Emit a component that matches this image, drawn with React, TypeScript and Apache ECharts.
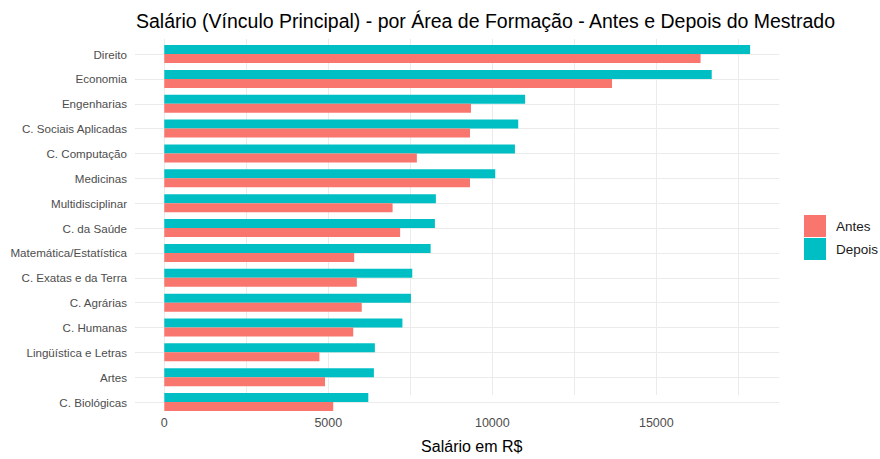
import React, { useEffect, useRef } from "react";
import * as echarts from "echarts";

// Top-to-bottom order as shown in the chart
const categories = [
  "Direito",
  "Economia",
  "Engenharias",
  "C. Sociais Aplicadas",
  "C. Computação",
  "Medicinas",
  "Multidisciplinar",
  "C. da Saúde",
  "Matemática/Estatística",
  "C. Exatas e da Terra",
  "C. Agrárias",
  "C. Humanas",
  "Lingüística e Letras",
  "Artes",
  "C. Biológicas",
];
const antes = [16350, 13650, 9350, 9320, 7700, 9320, 6960, 7190, 5790, 5870, 6020, 5760, 4730, 4900, 5150];
const depois = [17860, 16690, 11000, 10790, 10690, 10090, 8280, 8250, 8120, 7560, 7520, 7260, 6420, 6390, 6220];
const gridValues = [0, 2500, 5000, 7500, 10000, 12500, 15000, 17500];
const labelValues = [0, 5000, 10000, 15000];

const FONT = '"Liberation Sans", Arial, sans-serif';

export default function App() {
  const ref = useRef<HTMLDivElement>(null);
  useEffect(() => {
    if (!ref.current) return;
    const chart = echarts.init(ref.current, undefined, { renderer: "svg" });
    const cats = [...categories].reverse();
    const a = [...antes].reverse();
    const d = [...depois].reverse();
    const gridLine = { color: "#EBEBEB", width: 1, type: "solid" as const };
    chart.setOption({
      animation: false,
      backgroundColor: "#ffffff",
      textStyle: { fontFamily: FONT },
      graphic: [
        {
          type: "text",
          x: 485.5,
          y: 21,
          style: {
            text: "Salário (Vínculo Principal) - por Área de Formação - Antes e Depois do Mestrado",
            font: `19.5px ${FONT}`,
            fill: "#000000",
            textAlign: "center",
            textVerticalAlign: "middle",
          },
        },
      ],
      legend: {
        data: ["Antes", "Depois"],
        orient: "vertical",
        left: 804,
        top: 215,
        padding: 0,
        itemWidth: 22,
        itemHeight: 22,
        itemGap: 1,
        icon: "rect",
        textStyle: { fontSize: 13.5, color: "#1a1a1a", fontFamily: FONT, padding: [0, 0, 0, 5] },
      },
      grid: [
        { left: 135, right: 100.7, top: 41.6, bottom: 44.5 },
        { left: 164.3, right: 100.7, top: 39, bottom: 42 },
      ],
      xAxis: [
        { gridIndex: 0, type: "value", min: -893, max: 18750, show: false },
        {
          gridIndex: 1,
          type: "value",
          min: 0,
          max: 18750,
          interval: 5000,
          axisLine: { show: false },
          axisTick: { show: false },
          splitLine: { show: false },
          axisLabel: {
            color: "#4D4D4D",
            fontSize: 12.5,
            margin: 21,
            formatter: (v: number) => (labelValues.includes(v) ? String(v) : ""),
          },
          name: "Salário em R$",
          nameLocation: "middle",
          nameGap: 43,
          nameTextStyle: { fontSize: 16, color: "#000000", fontFamily: FONT },
        },
      ],
      yAxis: [
        {
          gridIndex: 0,
          type: "category",
          data: cats,
          axisLine: { show: false },
          axisTick: { show: false },
          splitLine: { show: false },
          axisLabel: { color: "#4D4D4D", fontSize: 11.6, margin: 8, fontFamily: FONT },
        },
        { gridIndex: 1, type: "value", min: 0, max: 1, show: false },
      ],
      series: [
        {
          type: "line",
          name: "hgrid",
          xAxisIndex: 0,
          yAxisIndex: 0,
          data: [],
          silent: true,
          z: 0,
          markLine: {
            silent: true,
            symbol: "none",
            z: 0,
            label: { show: false },
            lineStyle: gridLine,
            data: cats.map((c) => ({ yAxis: c })),
          },
        },
        {
          type: "line",
          name: "vgrid",
          xAxisIndex: 1,
          yAxisIndex: 1,
          data: [[0, 0.5]],
          showSymbol: false,
          lineStyle: { opacity: 0 },
          silent: true,
          z: 0,
          markLine: {
            silent: true,
            symbol: "none",
            z: 0,
            label: { show: false },
            lineStyle: gridLine,
            data: gridValues.map((v) => ({ xAxis: v })),
          },
        },
        {
          type: "bar",
          name: "Depois",
          xAxisIndex: 0,
          yAxisIndex: 0,
          data: d,
          barWidth: 9,
          barGap: "0%",
          itemStyle: { color: "#00BFC4" },
          z: 3,
        },
        {
          type: "bar",
          name: "Antes",
          xAxisIndex: 0,
          yAxisIndex: 0,
          data: a,
          barWidth: 9,
          barGap: "0%",
          itemStyle: { color: "#F8766D" },
          z: 3,
        },
      ],
    });
    return () => chart.dispose();
  }, []);
  return (
    <div
      ref={ref}
      style={{ position: "fixed", left: 0, top: 0, width: 880, height: 459, background: "#fff" }}
    />
  );
}
